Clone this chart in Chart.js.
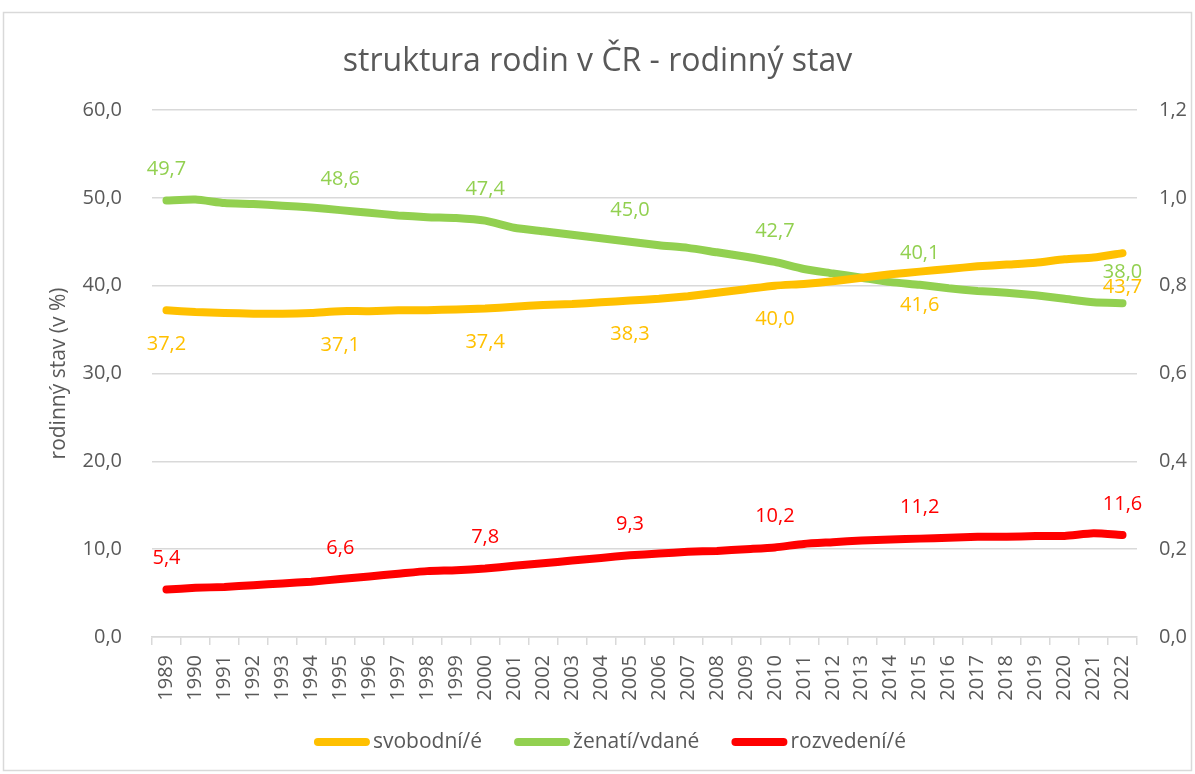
<!DOCTYPE html>
<html>
<head>
<meta charset="utf-8">
<script src="https://cdn.jsdelivr.net/npm/chart.js@4/dist/chart.umd.min.js"></script>
<style>
  html, body { margin: 0; padding: 0; background: #fff; }
  #wrap { position: absolute; left: 0; top: 0; width: 1195px; height: 774px; }
</style>
</head>
<body>
<div id="wrap"><canvas id="chart"></canvas></div>
<script>
const years = ["1989","1990","1991","1992","1993","1994","1995","1996","1997","1998","1999","2000","2001","2002","2003","2004","2005","2006","2007","2008","2009","2010","2011","2012","2013","2014","2015","2016","2017","2018","2019","2020","2021","2022"];

const svobodni = [37.2,37.0,36.9,36.8,36.8,36.9,37.1,37.1,37.2,37.2,37.3,37.4,37.6,37.8,37.9,38.1,38.3,38.5,38.8,39.2,39.6,40.0,40.2,40.5,40.9,41.3,41.6,41.9,42.2,42.4,42.6,43.0,43.2,43.7];
const zenati = [49.7,49.8,49.4,49.3,49.1,48.9,48.6,48.3,48.0,47.8,47.7,47.4,46.6,46.2,45.8,45.4,45.0,44.6,44.3,43.8,43.3,42.7,41.9,41.4,40.9,40.4,40.1,39.7,39.4,39.2,38.9,38.5,38.1,38.0];
const rozvedeni = [5.4,5.6,5.7,5.9,6.1,6.3,6.6,6.9,7.2,7.5,7.6,7.8,8.1,8.4,8.7,9.0,9.3,9.5,9.7,9.8,10.0,10.2,10.6,10.8,11.0,11.1,11.2,11.3,11.4,11.4,11.5,11.5,11.8,11.6];

// years that carry a value label
const labelIdx = [0, 6, 11, 16, 21, 26, 33];

const grey = "#595959";
const FONT = "'Open Sans', sans-serif";

function czNum(v) {
  return Number(v).toFixed(1).replace(".", ",");
}

// value labels: above / below the line
const valueLabels = {
  id: "valueLabels",
  afterDatasetsDraw(chart) {
    const ctx = chart.ctx;
    ctx.save();
    ctx.font = "20px " + FONT;
    ctx.textAlign = "center";
    ctx.textBaseline = "middle";
    chart.data.datasets.forEach((ds, i) => {
      const meta = chart.getDatasetMeta(i);
      labelIdx.forEach(k => {
        const p = meta.data[k];
        ctx.fillStyle = ds.borderColor;
        ctx.fillText(czNum(ds.data[k]), p.x, p.y + ds.labelOffset);
      });
    });
    ctx.restore();
  }
};

// outer frame + legend at the bottom
const frameLegend = {
  id: "frameLegend",
  afterDraw(chart) {
    const ctx = chart.ctx;
    ctx.save();
    ctx.strokeStyle = "#d9d9d9";
    ctx.lineWidth = 1.5;
    ctx.strokeRect(3.5, 12.5, 1188, 758);

    ctx.font = "21px " + FONT;
    ctx.textBaseline = "middle";
    const lineW = 56, gapText = 3, gapItem = 32, y = 742;
    const items = chart.data.datasets.map(ds => ({
      label: ds.label, color: ds.borderColor, w: ctx.measureText(ds.label).width
    }));
    let total = 0;
    items.forEach((it, i) => { total += lineW + gapText + it.w + (i ? gapItem : 0); });
    let x = 610 - total / 2;
    items.forEach(it => {
      ctx.strokeStyle = it.color;
      ctx.lineWidth = 8;
      ctx.lineCap = "round";
      ctx.beginPath();
      ctx.moveTo(x + 4, y);
      ctx.lineTo(x + lineW - 4, y);
      ctx.stroke();
      ctx.fillStyle = grey;
      ctx.fillText(it.label, x + lineW + gapText, y);
      x += lineW + gapText + it.w + gapItem;
    });
    ctx.restore();
  }
};

const lineStyle = {
  borderWidth: 8,
  pointRadius: 0,
  tension: 0.2,
  borderCapStyle: "round",
  borderJoinStyle: "round",
  fill: false
};

new Chart(document.getElementById("chart"), {
  type: "line",
  data: {
    labels: years,
    datasets: [
      { label: "svobodní/é", data: svobodni, borderColor: "#FFC000", backgroundColor: "#FFC000", labelOffset: 34, ...lineStyle },
      { label: "ženatí/vdané", data: zenati, borderColor: "#92D050", backgroundColor: "#92D050", labelOffset: -31, ...lineStyle },
      { label: "rozvedení/é", data: rozvedeni, borderColor: "#FF0000", backgroundColor: "#FF0000", labelOffset: -31, ...lineStyle }
    ]
  },
  options: {
    responsive: true,
    maintainAspectRatio: false,
    animation: false,
    layout: { padding: { left: 0, right: 0, top: 0, bottom: 57 } },
    plugins: {
      legend: { display: false },
      tooltip: { enabled: false },
      title: {
        display: true,
        text: "struktura rodin v ČR - rodinný stav",
        color: grey,
        font: { family: FONT, size: 32, weight: "normal" },
        padding: { top: 43, bottom: 28.6 }
      }
    },
    scales: {
      x: {
        offset: true,
        grid: { drawOnChartArea: false, drawTicks: true, tickLength: 8, color: "#d9d9d9", lineWidth: 1.5, offset: true },
        border: { color: "#d9d9d9", width: 1.5 },
        ticks: { color: grey, font: { family: FONT, size: 20 }, minRotation: 90, maxRotation: 90, autoSkip: false, padding: 10 },
        afterFit(scale) { scale.height = 80; }
      },
      y: {
        position: "left",
        min: 0, max: 60,
        ticks: { stepSize: 10, color: grey, font: { family: FONT, size: 20 }, padding: 30, callback: v => czNum(v) },
        grid: { color: "#d9d9d9", lineWidth: 1.5, drawTicks: false },
        border: { display: false },
        title: { display: true, text: "rodinný stav (v %)", color: grey, font: { family: FONT, size: 21 }, padding: { top: 46, bottom: 0 } },
        afterFit(scale) { scale.width = 152; }
      },
      y1: {
        position: "right",
        min: 0, max: 1.2,
        ticks: { stepSize: 0.2, color: grey, font: { family: FONT, size: 20 }, padding: 22, callback: v => czNum(v) },
        grid: { display: false, drawTicks: false },
        border: { display: false },
        afterFit(scale) { scale.width = 58; }
      }
    }
  },
  plugins: [valueLabels, frameLegend]
});
</script>
</body>
</html>
